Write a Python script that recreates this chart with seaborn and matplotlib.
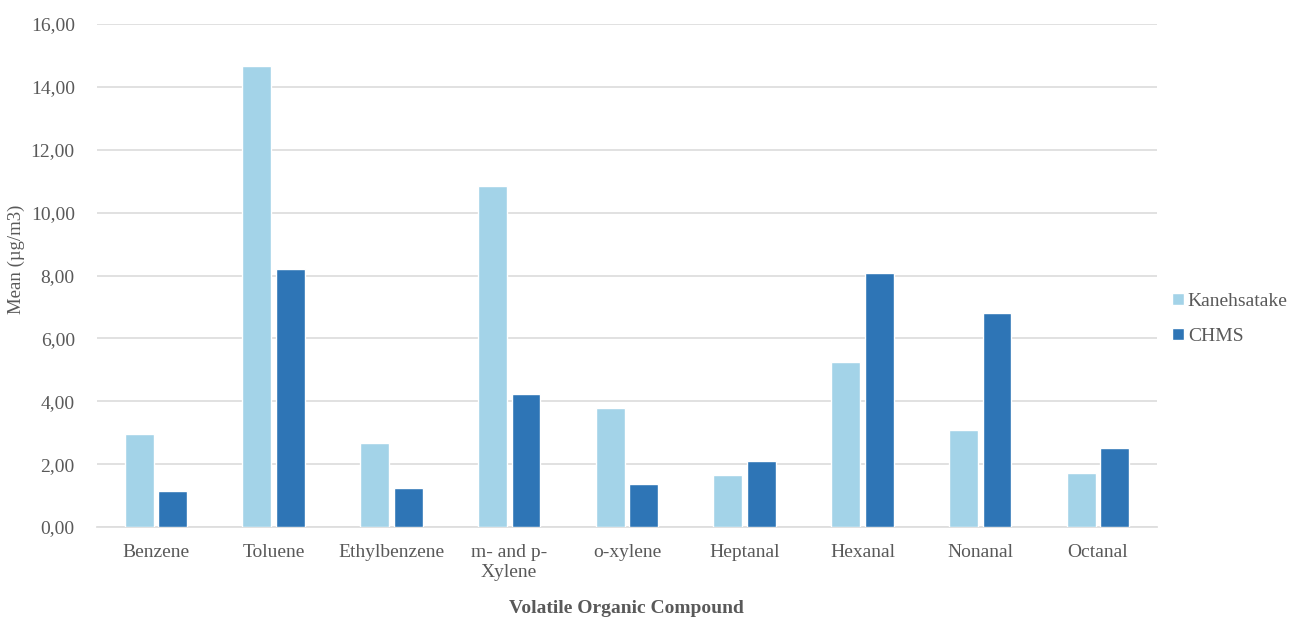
import matplotlib
matplotlib.use("Agg")
import matplotlib.pyplot as plt
import matplotlib.ticker as mticker
import pandas as pd
import seaborn as sns

compounds = ["Benzene", "Toluene", "Ethylbenzene", "m- and p-\nXylene", "o-xylene",
             "Heptanal", "Hexanal", "Nonanal", "Octanal"]
kanehsatake = [2.96, 14.66, 2.67, 10.85, 3.78, 1.65, 5.25, 3.09, 1.72]
chms = [1.15, 8.21, 1.24, 4.23, 1.37, 2.10, 8.08, 6.81, 2.51]
groups = ["Kanehsatake", "CHMS"]
colors = ["#a3d3e8", "#2e75b6"]
y_ticks = [0, 2, 4, 6, 8, 10, 12, 14, 16]

df = pd.DataFrame({
    "Compound": compounds * 2,
    "Group": [groups[0]] * len(compounds) + [groups[1]] * len(compounds),
    "Mean": kanehsatake + chms,
})

sns.set_theme(style="white")
plt.rcParams["font.family"] = ["Liberation Serif", "DejaVu Serif"]
text_color = "#595959"

fig = plt.figure(figsize=(13.02, 6.19), dpi=100)
ax = fig.add_axes([0.0745, 0.1486, 0.814, 0.8126])

sns.barplot(data=df, x="Compound", y="Mean", hue="Group", hue_order=groups,
            palette=colors, width=0.57, gap=0.14, saturation=1, ax=ax,
            errorbar=None, zorder=3)

ax.set_ylim(0, 16)
ax.set_xlim(-0.5, len(compounds) - 0.5)
ax.set_yticks(y_ticks)
ax.yaxis.set_major_formatter(mticker.FuncFormatter(lambda v, p: f"{v:.2f}".replace(".", ",")))
ax.grid(axis="y", color="#dedede", linewidth=1.3, zorder=0)
ax.set_axisbelow(True)
for side in ["top", "right", "left"]:
    ax.spines[side].set_visible(False)
ax.spines["bottom"].set_color("#dedede")
ax.spines["bottom"].set_linewidth(1.3)
ax.tick_params(axis="both", length=0, labelsize=14, colors=text_color)
ax.tick_params(axis="x", pad=12)
ax.tick_params(axis="y", pad=16)
for lbl in ax.get_xticklabels():
    lbl.set_linespacing(1.25)

ax.set_ylabel("Mean (µg/m3)", fontsize=13.5, color=text_color)
ax.yaxis.set_label_coords(-0.068, 0.533)
ax.set_xlabel("Volatile Organic Compound", fontsize=14, fontweight="bold",
              color=text_color, labelpad=14)

leg = ax.legend(loc="center left", bbox_to_anchor=(0.998, 0.414), frameon=False,
                fontsize=14, handlelength=0.6, handleheight=0.6,
                handletextpad=0.2, labelspacing=0.9)
for t in leg.get_texts():
    t.set_color(text_color)

fig.savefig("out.png", dpi=100, facecolor="white")
